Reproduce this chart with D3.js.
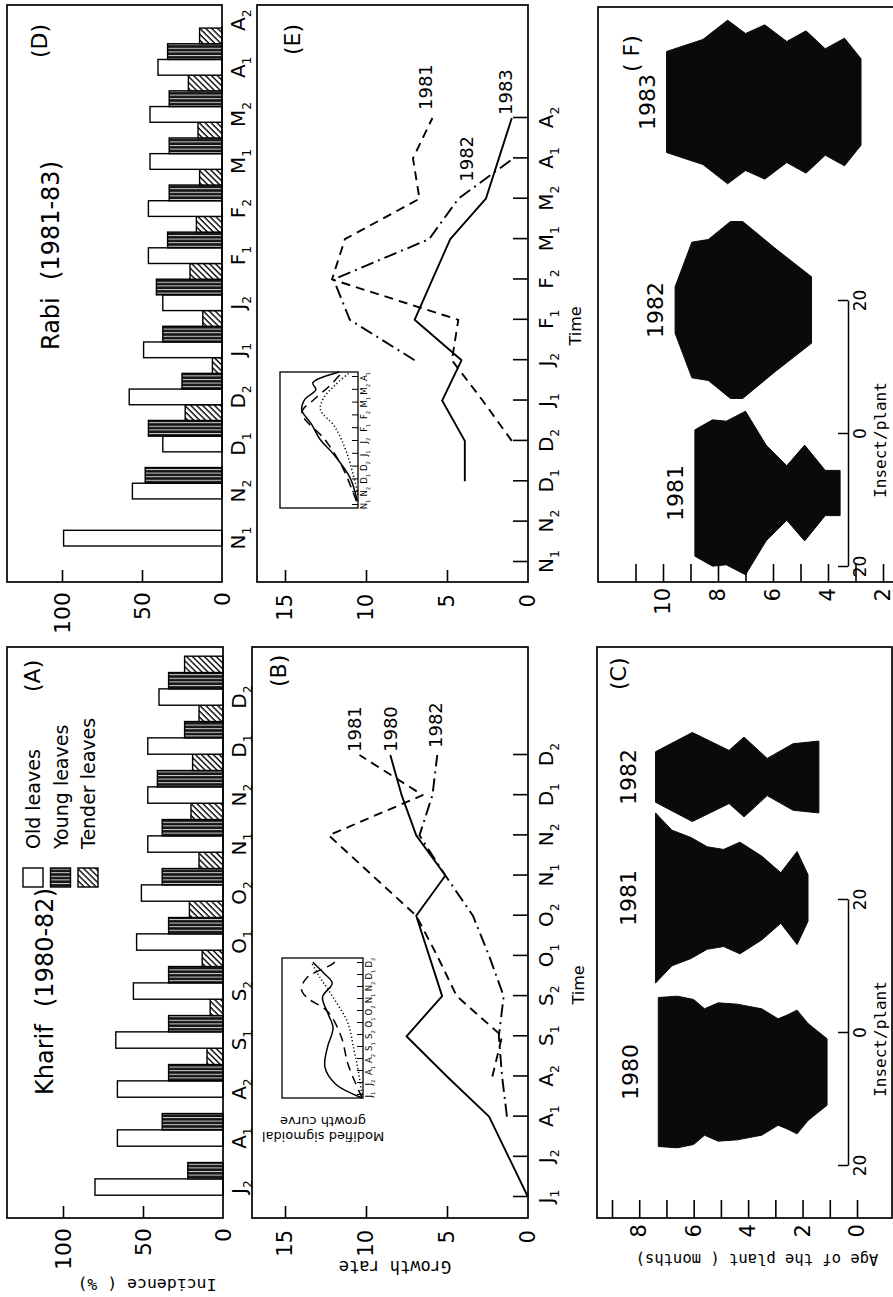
<!DOCTYPE html>
<html>
<head>
<meta charset="utf-8">
<script src="https://cdn.jsdelivr.net/npm/d3@7"></script>
<style>
  html, body { margin: 0; padding: 0; background: #fff; }
  svg { display: block; }
</style>
</head>
<body>
<div id="chart"></div>
<script>
// ---------- data ----------
const incidenceTicks = [0, 50, 100];
const growthTicks = [0, 5, 10, 15];

// (A) Kharif incidence (%)
const kharifMonths = ['J2', 'A1', 'A2', 'S1', 'S2', 'O1', 'O2', 'N1', 'N2', 'D1', 'D2'];
const kharifOld    = [80, 66, 66, 67, 56, 54, 51, 47, 47, 47, 40];
const kharifYoung  = [22, 38, 34, 34, 34, 34, 38, 38, 41, 24, 34];
const kharifTender = [0, 0, 10, 8, 13, 21, 15, 20, 19, 15, 24];

// (D) Rabi incidence (%)
const rabiMonths = ['N1', 'N2', 'D1', 'D2', 'J1', 'J2', 'F1', 'F2', 'M1', 'M2', 'A1', 'A2'];
const rabiOld    = [99, 56, 37, 58, 49, 37, 46, 46, 45, 45, 40, 0];
const rabiYoung  = [0, 48, 46, 25, 37, 41, 34, 33, 33, 33, 34, 0];
const rabiTender = [0, 0, 23, 6, 12, 20, 16, 14, 15, 21, 14, 0];

// (B) Kharif growth rate
const kharifGrowthMonths = ['J1', 'J2', 'A1', 'A2', 'S1', 'S2', 'O1', 'O2', 'N1', 'N2', 'D1', 'D2'];
const kharif1980 = [0, 1.2, 2.4, 5.0, 7.5, 5.3, 6.1, 6.9, 5.1, 6.9, 7.8, 8.5];
const kharif1981 = [null, null, null, 2.2, 1.6, 4.4, 5.6, 6.9, 9.6, 12.3, 6.5, 10.4];
const kharif1982 = [null, null, 1.3, 1.6, 1.8, 1.5, 2.4, 3.4, 5.1, 6.7, 5.9, 5.6];

// (E) Rabi growth rate
const rabiGrowthMonths = ['N1', 'N2', 'D1', 'D2', 'J1', 'J2', 'F1', 'F2', 'M1', 'M2', 'A1', 'A2'];
const rabi1981 = [null, null, null, 1.0, 2.8, 4.7, 4.3, 12.1, 11.3, 6.7, 7.1, 5.9];
const rabi1982 = [null, null, null, null, null, 7.0, 11.0, 12.0, 6.1, 4.3, 0.9, null];
const rabi1983 = [null, null, 3.9, 3.9, 5.3, 4.1, 7.0, 5.9, 4.8, 2.6, 1.8, 1.0];

// insets: modified sigmoidal growth curves, [relative time, relative value]
const insetKharifMonths = ['J1', 'J2', 'A1', 'A2', 'S1', 'S2', 'O1', 'O2', 'N1', 'N2', 'D1', 'D2'];
const insetKharifSolid  = [[0, 0.01], [0.1, 0.34], [0.22, 0.47], [0.36, 0.44], [0.5, 0.37], [0.6, 0.43], [0.72, 0.5], [0.82, 0.38], [0.89, 0.48], [0.97, 0.62]];
const insetKharifDashed = [[0, 0.01], [0.13, 0.11], [0.25, 0.19], [0.44, 0.27], [0.62, 0.44], [0.72, 0.7], [0.78, 0.76], [0.86, 0.69], [0.96, 0.37], [1, 0.3]];
const insetKharifDotted = [[0, 0.01], [0.2, 0.06], [0.34, 0.11], [0.54, 0.19], [0.72, 0.37], [0.86, 0.53], [0.97, 0.64]];
const insetRabiMonths = ['N1', 'N2', 'D1', 'D2', 'J1', 'J2', 'F1', 'F2', 'M1', 'M2', 'A1'];
const insetRabiSolid  = [[0.05, 0.01], [0.22, 0.1], [0.4, 0.32], [0.5, 0.48], [0.62, 0.6], [0.72, 0.72], [0.8, 0.68], [0.87, 0.54], [0.92, 0.58], [1, 0.24]];
const insetRabiDashed = [[0.05, 0.02], [0.3, 0.2], [0.5, 0.42], [0.7, 0.72], [0.8, 0.56], [0.9, 0.36], [1, 0.2]];
const insetRabiDotted = [[0.1, 0.0], [0.4, 0.14], [0.6, 0.3], [0.72, 0.48], [0.8, 0.45], [0.9, 0.3], [1, 0.1]];

// (C) & (F) kite diagrams: [age of plant (months), insects/plant on each side]
const kite1980 = [[1.1, 5.0], [1.8, 7.3], [2.2, 9.3], [2.6, 8.5], [2.9, 8.0], [3.5, 9.5], [4.4, 10.2], [5.1, 10.4], [5.6, 9.5], [6.0, 10.9], [6.6, 11.4], [7.3, 11.2]];
const kite1981 = [[1.8, 3.5], [2.2, 7.0], [2.8, 3.8], [3.5, 6.3], [4.3, 8.4], [4.9, 7.3], [5.5, 7.7], [6.1, 9.1], [6.8, 10.2], [7.4, 12.8]];
const kite1982 = [[1.4, 5.4], [2.35, 5.0], [3.3, 2.8], [4.15, 6.0], [4.7, 4.0], [6.05, 6.7], [7.4, 3.8]];
const kiteRabi1981 = [[3.56, 3.4], [4.1, 3.4], [4.85, 7.2], [5.5, 4.1], [6.25, 7.2], [7.0, 12.3], [7.7, 10.8], [8.2, 11.0], [8.84, 9.5]];
const kiteRabi1982 = [[4.6, 5.0], [5.9, 9.2], [7.1, 13.3], [7.55, 13.3], [8.35, 10.6], [8.95, 10.2], [9.56, 3.5]];
const kiteRabi1983 = [[2.8, 6.5], [3.4, 9.6], [4.1, 8.0], [4.8, 10.7], [5.5, 9.1], [6.3, 11.6], [7.0, 10.3], [7.65, 12.3], [8.55, 9.4], [9.87, 7.6]];

const kharifAgeTicks = [0, 2, 4, 6, 8];
const rabiAgeTicks = [2, 4, 6, 8, 10];
const insectTicks = [-20, 0, 20];

// ---------- layout (figure drawn upright, then turned a quarter) ----------
const FONT = 'DejaVu Sans, sans-serif';
const MONO = 'DejaVu Sans Mono, monospace';
const FIG_W = 1297;

const panelA = { x0: 79, x1: 650, y0: 7, y1: 223, yTop: 63, band: [101.8, 640.8] };
const panelD = { x0: 715, x1: 1292, y0: 7, y1: 222, yTop: 62, band: [751, 1316] };
const panelB = { x0: 79, x1: 650, y0: 252, y1: 528, yTop: 285, pts: [100, 542] };
const panelE = { x0: 715, x1: 1292, y0: 257, y1: 528, yTop: 285, pts: [735, 1179] };
const panelC = { x0: 79, x1: 650, y0: 597, y1: 892, age0: 857, age9: 612 };
const panelF = { x0: 715, x1: 1290, y0: 598, y1: 960, age0: 938, age9: 690.5 };

const svg = d3.select('#chart').append('svg')
  .attr('width', 893)
  .attr('height', 1297)
  .attr('viewBox', '0 0 893 1297');

svg.append('rect').attr('width', 893).attr('height', 1297).attr('fill', '#fff');

const defs = svg.append('defs');
const young = defs.append('pattern')
  .attr('id', 'young').attr('patternUnits', 'userSpaceOnUse')
  .attr('width', 3.6).attr('height', 4);
young.append('rect').attr('width', 3.6).attr('height', 4).attr('fill', '#151515');
young.append('rect').attr('x', 2.6).attr('width', 1).attr('height', 4).attr('fill', '#cfcfcf');

const tender = defs.append('pattern')
  .attr('id', 'tender').attr('patternUnits', 'userSpaceOnUse')
  .attr('width', 4.2).attr('height', 4.2)
  .attr('patternTransform', 'rotate(45)');
tender.append('rect').attr('width', 4.2).attr('height', 4.2).attr('fill', '#fff');
tender.append('line').attr('x1', 1).attr('x2', 1).attr('y1', 0).attr('y2', 4.2)
  .attr('stroke', '#000').attr('stroke-width', 1.4);

// whole figure is rotated 90deg counter-clockwise in the scan
const fig = svg.append('g').attr('transform', `translate(0,${FIG_W}) rotate(-90)`);

function frame(g, p) {
  g.append('rect')
    .attr('x', p.x0).attr('y', p.y0)
    .attr('width', p.x1 - p.x0).attr('height', p.y1 - p.y0)
    .attr('fill', 'none').attr('stroke', '#000').attr('stroke-width', 1.7);
}

function text(g, str, x, y, size, opts = {}) {
  return g.append('text')
    .attr('x', x).attr('y', y)
    .attr('font-family', opts.family || FONT)
    .attr('font-size', size)
    .attr('text-anchor', opts.anchor || 'start')
    .attr('transform', opts.rotate ? `rotate(${opts.rotate},${x},${y})` : null)
    .text(str);
}

// month label like "J2" -> J with subscript 2
function subLabel(sel, size) {
  sel.each(function(d) {
    const s = String(d);
    const t = d3.select(this).text(null);
    t.append('tspan').text(s[0]);
    t.append('tspan').attr('font-size', size * 0.62).attr('dy', size * 0.3).text(s.slice(1));
  });
}

function styleAxis(a, size, family) {
  a.select('.domain').remove();
  a.attr('font-family', family || FONT).attr('font-size', size);
  a.selectAll('line').attr('stroke-width', 1.6);
  return a;
}

// ---------- bar panels ----------
function drawBars(p, months, old, yng, tdr) {
  const g = fig.append('g');
  const x = d3.scaleBand().domain(months).range(p.band);
  const sub = d3.scaleBand().domain(['old', 'young', 'tender']).range([0, x.bandwidth()]);
  const y = d3.scaleLinear().domain([0, 100]).range([p.y1, p.yTop]);
  const fills = { old: '#fff', young: 'url(#young)', tender: 'url(#tender)' };

  const rows = months.map((m, i) => ({ m, old: old[i], young: yng[i], tender: tdr[i] }));
  const flat = rows.flatMap(r => ['old', 'young', 'tender'].map(k => ({ m: r.m, k, v: r[k] })))
    .filter(d => d.v > 0);

  g.selectAll('rect.bar').data(flat).join('rect')
    .attr('class', 'bar')
    .attr('x', d => x(d.m) + sub(d.k))
    .attr('y', d => y(d.v))
    .attr('width', sub.bandwidth())
    .attr('height', d => y(0) - y(d.v))
    .attr('fill', d => fills[d.k])
    .attr('stroke', '#000').attr('stroke-width', 1.4);

  frame(g, p);

  styleAxis(g.append('g').attr('transform', `translate(${p.x0},0)`)
    .call(d3.axisRight(y).tickValues([50, 100]).tickSize(12).tickFormat('')));

  styleAxis(g.append('g').attr('transform', `translate(${p.x0 - 10},0)`)
    .call(d3.axisLeft(y).tickValues(incidenceTicks).tickSize(0).tickPadding(0)), 22);

  const xa = styleAxis(g.append('g')
    .attr('transform', `translate(${sub.bandwidth() / 2 - x.bandwidth() / 2},${p.y1})`)
    .call(d3.axisBottom(x).tickSize(0).tickPadding(9)), 20);
  subLabel(xa.selectAll('text'), 20);
}

drawBars(panelA, kharifMonths, kharifOld, kharifYoung, kharifTender);
drawBars(panelD, rabiMonths, rabiOld, rabiYoung, rabiTender);

// legend + titles for bars
{
  const g = fig.append('g');
  const legend = [['Old leaves', '#fff'], ['Young leaves', 'url(#young)'], ['Tender leaves', 'url(#tender)']];
  const ly = d3.scalePoint().domain(legend.map(d => d[0])).range([23, 78]);
  legend.forEach(([name, fill]) => {
    g.append('rect').attr('x', 410).attr('y', ly(name)).attr('width', 19).attr('height', 20)
      .attr('fill', fill).attr('stroke', '#000').attr('stroke-width', 1.4);
    text(g, name, 448, ly(name) + 17, 19);
  });
  text(g, 'Kharif', 202, 53, 24);
  text(g, '(1980-82)', 290, 53, 24);
  text(g, '(A)', 605, 40, 22);
  text(g, 'Rabi', 947, 59, 24);
  text(g, '(1981-83)', 1017, 59, 24);
  text(g, '(D)', 1239, 47, 22);
  text(g, 'Incidence ( %)', 18, 147, 16.5, { family: MONO, anchor: 'middle', rotate: -90 });
}

// ---------- growth rate panels ----------
const lineStyles = {
  solid: null,
  dashed: '9,6',
  dashdot: '13,5,2,5',
  dotted: '1.2,2.4'
};

function drawInset(g, box, months, curves) {
  const u = d3.scaleLinear().domain([0, 1]).range([box.x0, box.x1]);
  const v = d3.scaleLinear().domain([0, 1]).range([box.y1, box.y0]);
  const t = d3.scalePoint().domain(months).range([box.x0 + 3, box.x1 - 5]);
  g.append('rect').attr('x', box.x0).attr('y', box.y0)
    .attr('width', box.x1 - box.x0).attr('height', box.y1 - box.y0)
    .attr('fill', 'none').attr('stroke', '#000').attr('stroke-width', 1.3);
  const ta = styleAxis(g.append('g').attr('transform', `translate(0,${box.y1})`)
    .call(d3.axisTop(t).tickSize(6).tickFormat('')));
  ta.selectAll('line').attr('stroke-width', 1);
  const la = styleAxis(g.append('g').attr('transform', `translate(0,${box.y1})`)
    .call(d3.axisBottom(t).tickSize(0).tickPadding(3)), 8.5);
  subLabel(la.selectAll('text'), 8.5);
  const line = d3.line().x(d => u(d[0])).y(d => v(d[1])).curve(d3.curveCatmullRom);
  curves.forEach(([pts, style]) => {
    g.append('path').attr('d', line(pts)).attr('fill', 'none')
      .attr('stroke', '#000').attr('stroke-width', 1.5)
      .attr('stroke-dasharray', lineStyles[style]);
  });
}

function drawLines(p, months, series, labels) {
  const g = fig.append('g');
  const x = d3.scalePoint().domain(months).range(p.pts);
  const y = d3.scaleLinear().domain([0, 15]).range([p.y1, p.yTop]);
  const line = d3.line().x(d => x(d.m)).y(d => y(d.v));

  series.forEach(([vals, style]) => {
    const pts = months.map((m, i) => ({ m, v: vals[i] })).filter(d => d.v != null);
    g.append('path').attr('d', line(pts)).attr('fill', 'none')
      .attr('stroke', '#000').attr('stroke-width', 1.9)
      .attr('stroke-linejoin', 'round')
      .attr('stroke-dasharray', lineStyles[style]);
  });
  labels.forEach(([name, m, v, dx]) => text(g, name, x(m) + dx, y(v) + 6.5, 18));

  frame(g, p);
  styleAxis(g.append('g').attr('transform', `translate(${p.x0},0)`)
    .call(d3.axisRight(y).tickValues([5, 10, 15]).tickSize(12).tickFormat('')));
  styleAxis(g.append('g').attr('transform', `translate(${p.x0 - 12},0)`)
    .call(d3.axisLeft(y).tickValues(growthTicks).tickSize(0).tickPadding(0)), 21);
  styleAxis(g.append('g').attr('transform', `translate(0,${p.y1})`)
    .call(d3.axisTop(x).tickSize(15).tickFormat('')));
  const xa = styleAxis(g.append('g').attr('transform', `translate(0,${p.y1})`)
    .call(d3.axisBottom(x).tickSize(0).tickPadding(11)), 20);
  subLabel(xa.selectAll('text'), 20);
  return g;
}

{
  const g = drawLines(panelB, kharifGrowthMonths,
    [[kharif1980, 'solid'], [kharif1981, 'dashed'], [kharif1982, 'dashdot']],
    [['1981', 'D2', 10.7, 3], ['1980', 'D2', 8.5, 3], ['1982', 'D2', 5.7, 7]]);
  drawInset(g, { x0: 199, x1: 339, y0: 282, y1: 363 }, insetKharifMonths,
    [[insetKharifSolid, 'solid'], [insetKharifDashed, 'dashed'], [insetKharifDotted, 'dotted']]);
  text(g, 'Modified sigmoidal', 165, 323, 13, { anchor: 'middle', rotate: -90 });
  text(g, 'growth curve', 180, 323, 13, { anchor: 'middle', rotate: -90 });
  text(g, 'Time', 312, 584, 16, { anchor: 'middle' });
  text(g, '(B)', 610, 286, 22);
  text(g, 'Growth rate', 36, 395, 17, { family: MONO, anchor: 'middle', rotate: -90 });
}
{
  const g = drawLines(panelE, rabiGrowthMonths,
    [[rabi1983, 'solid'], [rabi1981, 'dashed'], [rabi1982, 'dashdot']],
    [['1981', 'A2', 6.3, 8], ['1982', 'M2', 3.8, 17], ['1983', 'A2', 1.4, 3]]);
  drawInset(g, { x0: 789, x1: 925, y0: 280, y1: 358 }, insetRabiMonths,
    [[insetRabiSolid, 'solid'], [insetRabiDashed, 'dashed'], [insetRabiDotted, 'dotted']]);
  text(g, 'Time', 971, 581, 16, { anchor: 'middle' });
  text(g, '(E)', 1242, 300, 22);
}

// ---------- kite diagrams ----------
function drawKites(p, kites, ageTicks, ageTickRange, kiteX, labelLift, barCenter) {
  const g = fig.append('g');
  const age = d3.scaleLinear().domain([0, 9]).range([p.age0, p.age9]);
  const hw = d3.scaleLinear().domain([0, 20]).range([0, 133]);

  kites.forEach(([year, pts]) => {
    const cx = kiteX(year);
    const area = d3.area()
      .y(d => age(d[0]))
      .x0(d => cx - hw(d[1]))
      .x1(d => cx + hw(d[1]));
    g.append('path').attr('d', area(pts)).attr('fill', '#0a0a0a').attr('stroke', '#0a0a0a').attr('stroke-width', 1);
    const top = d3.max(pts, d => d[0]);
    text(g, year, cx, age(top) - labelLift, 22, { anchor: 'middle' });
  });

  frame(g, p);
  styleAxis(g.append('g').attr('transform', `translate(${p.x0},0)`)
    .call(d3.axisRight(age).tickValues(d3.range(ageTickRange[0], ageTickRange[1] + 1)).tickSize(18).tickFormat('')));
  styleAxis(g.append('g').attr('transform', `translate(${p.x0 - 6},0)`)
    .call(d3.axisLeft(age).tickValues(ageTicks).tickSize(0).tickPadding(0)), 21);

  // insect/plant scale bar
  const s = d3.scaleLinear().domain([-20, 20]).range([barCenter - hw(20), barCenter + hw(20)]);
  const sa = g.append('g').attr('transform', 'translate(0,848)')
    .call(d3.axisBottom(s).tickValues(insectTicks).tickSizeInner(-10).tickSizeOuter(0)
      .tickPadding(6).tickFormat(d => Math.abs(d)));
  sa.attr('font-family', FONT).attr('font-size', 17);
  sa.selectAll('line, path').attr('stroke-width', 1.5);
  text(g, 'Insect/plant', barCenter - 6, 886, 16, { family: MONO, anchor: 'middle' });
  return g;
}

{
  const kiteX = d3.scaleOrdinal().domain(['1980', '1981', '1982']).range([225, 399, 520]);
  const g = drawKites(panelC, [['1980', kite1980], ['1981', kite1981], ['1982', kite1982]],
    kharifAgeTicks, [0, 9], kiteX, 20, 264);
  text(g, '(C)', 607, 626, 22);
  text(g, 'Age of the plant ( months)', 43, 757, 15.5, { family: MONO, anchor: 'middle', rotate: -90 });
}
{
  const kiteX = d3.scaleOrdinal().domain(['1981', '1982', '1983']).range([804, 987, 1195]);
  const g = drawKites(panelF, [['1981', kiteRabi1981], ['1982', kiteRabi1982], ['1983', kiteRabi1983]],
    rabiAgeTicks, [2, 11], kiteX, 12, 863);
  text(g, '( F)', 1225, 639, 22);
}
</script>
</body>
</html>
